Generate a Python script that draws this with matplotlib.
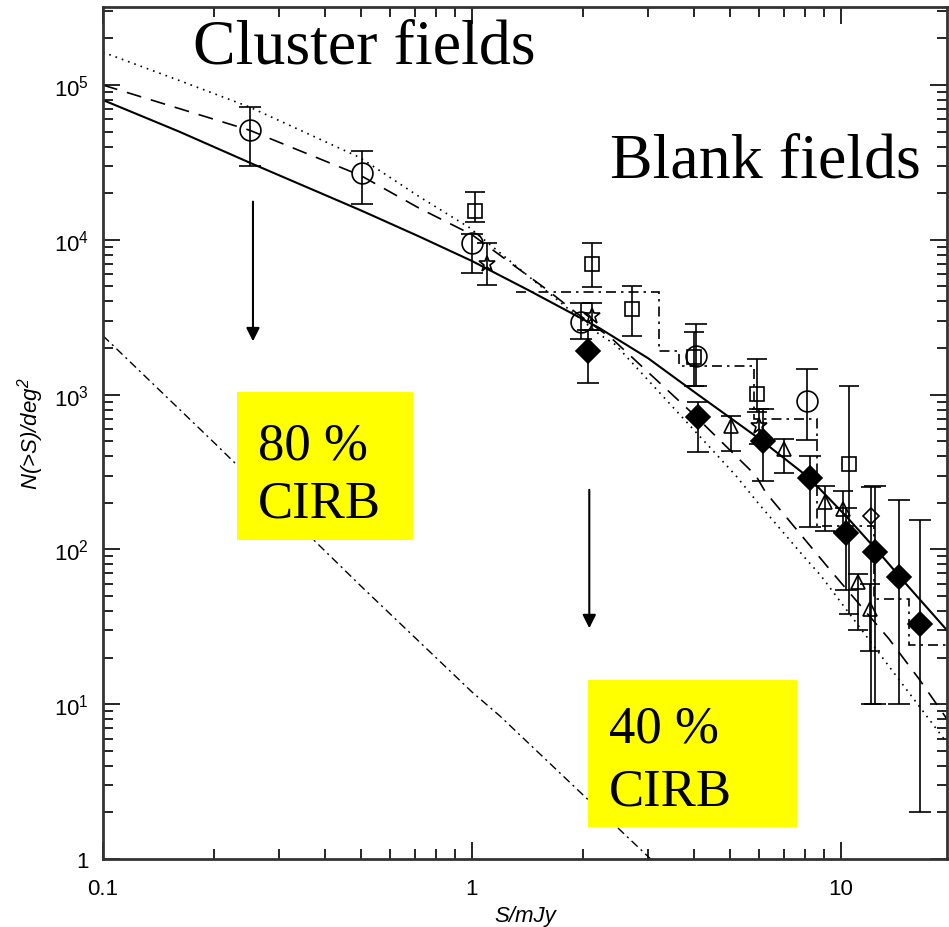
import numpy as np
import matplotlib
matplotlib.use('Agg')
import matplotlib.pyplot as plt
from matplotlib.patches import Rectangle

#---------------------- DATA
# model curves
s_solid  = [0.1, 0.161, 0.25, 0.5, 0.72, 1.0, 1.43, 2.21, 3.0, 4.05, 6.0, 8.2, 10.3, 12.7, 15.0, 19.4]
n_solid  = [8.0e4, 5.0e4, 3.15e4, 1.55e4, 1.05e4, 7.3e3, 4.7e3, 2.7e3, 1.72e3, 1.02e3, 520, 290, 165, 95, 60, 30]

s_dash   = [0.1, 0.25, 0.5, 0.72, 1.0, 1.59, 1.91, 2.4, 4.0, 5.88, 6.25, 9.47, 13.5, 16.3, 19.4]
n_dash   = [1.0e5, 5.1e4, 2.6e4, 1.6e4, 1.08e4, 4.8e3, 3.4e3, 2.29e3, 740, 300, 234, 71, 26.4, 14.5, 8.0]

s_dot    = [0.1, 0.161, 0.25, 0.496, 0.72, 0.984, 1.345, 2.21, 2.45, 5.19, 6.0, 8.03, 8.81, 14.1, 19.2]
n_dot    = [1.63e5, 1.07e5, 7.2e4, 3.41e4, 1.9e4, 1.2e4, 6.5e3, 2.46e3, 2.1e3, 300, 196, 87, 68, 15.3, 5.8]

s_cirb   = [0.1, 0.2, 0.5, 1.0, 1.19, 2.07, 3.05]
n_cirb   = [2400, 490, 58, 12, 8.4, 2.4, 1.0]

# blank-field histogram (dash-dot steps)
hist_edges = [1.32, 3.22, 3.64, 5.81, 8.6, 12.3, 15.3, 19.4]
hist_vals  = [4580, 1920, 1540, 695, 142, 48, 24]

# data points: x, y, lower, upper
circ_x  = [0.251, 0.503, 1.0, 1.98, 4.05, 8.07]
circ_y  = [5.12e4, 2.7e4, 9.6e3, 2.93e3, 1.77e3, 906]
circ_lo = [3.0e4, 1.7e4, 6.1e3, 2.3e3, 1.14e3, 511]
circ_hi = [7.2e4, 3.73e4, 1.09e4, 3.9e3, 2.86e3, 1.46e3]

sq_x  = [1.02, 2.11, 2.72, 4.0, 5.94, 10.5]
sq_y  = [1.53e4, 6.98e3, 3.57e3, 1.75e3, 1.01e3, 356]
sq_lo = [1.30e4, 4.96e3, 2.38e3, 1.14e3, 772, 38]
sq_hi = [2.04e4, 9.5e3, 5.05e3, 2.52e3, 1.70e3, 1.13e3]

star_x  = [1.10, 2.12, 6.0]
star_y  = [6.98e3, 3.24e3, 630]
star_lo = [5.1e3, 2.6e3, 480]
star_hi = [9.5e3, 3.9e3, 807]

tri_x  = [5.03, 7.0, 9.04, 10.1, 11.1, 12.0]
tri_y  = [630, 445, 201, 183, 62, 41]
tri_lo = [434, 312, 132, 130, 30, 22]
tri_hi = [731, 517, 258, 239, 69, 60]

odia_x  = [12.1]
odia_y  = [165]
odia_lo = [10]
odia_hi = [252]

fdia_x  = [2.06, 4.1, 6.15, 8.22, 10.3, 12.4, 14.4, 16.4]
fdia_y  = [1.92e3, 713, 505, 289, 128, 96, 66, 33]
fdia_lo = [1.19e3, 424, 278, 140, 55, 10, 10, 2.0]
fdia_hi = [2.6e3, 896, 807, 401, 185, 257, 209, 155]

yticks      = [1, 10, 100, 1000, 1e4, 1e5]
yticklabels = ['1', '$10^1$', '$10^2$', '$10^3$', '$10^4$', '$10^5$']
xticks      = [0.1, 1, 10]
xticklabels = ['0.1', '1', '10']

##------------------------PLOTTING
plt.rcParams['font.family'] = 'Liberation Sans'
plt.rcParams['mathtext.default'] = 'regular'

fig = plt.figure(figsize=(9.49, 9.28), dpi=100)
ax = fig.add_axes([0.1085, 0.0733, 0.8895, 0.918])

ax.plot(s_solid, n_solid, 'k-', lw=1.5)
ax.plot(s_dash, n_dash, 'k', ls=(0, (9, 6)), lw=1.2)
ax.plot(s_dot, n_dot, 'k', ls=(0, (1, 3)), lw=1.2)
ax.plot(s_cirb, n_cirb, 'k', ls=(0, (6, 3, 1.5, 3)), lw=1.0)
ax.stairs(hist_vals, hist_edges, baseline=None, color='k', ls=(0, (6, 3, 1.5, 3)), lw=1.2)

def pts(x, y, lo, hi, fmt, ms, cs, filled=False):
    x = np.array(x); y = np.array(y)
    yerr = [y - np.array(lo), np.array(hi) - y]
    ax.errorbar(x, y, yerr=yerr, fmt=fmt, ms=ms, mec='k', mfc='k' if filled else 'none',
                mew=1.2, ecolor='k', elinewidth=1.2, capsize=cs, capthick=1.2)

pts(circ_x, circ_y, circ_lo, circ_hi, 'o', 15, 8)
pts(sq_x, sq_y, sq_lo, sq_hi, 's', 10, 7)
pts(star_x, star_y, star_lo, star_hi, '*', 12, 7)
pts(tri_x, tri_y, tri_lo, tri_hi, '^', 10, 7)
pts(odia_x, odia_y, odia_lo, odia_hi, 'D', 8, 7)
pts(fdia_x, fdia_y, fdia_lo, fdia_hi, 'D', 12, 8, filled=True)

ax.set_xscale('log'); ax.set_yscale('log')
ax.set_xlim(0.1, 19.4)
ax.set_ylim(1, 3.19e5)
ax.set_xticks(xticks); ax.set_xticklabels(xticklabels)
ax.set_yticks(yticks); ax.set_yticklabels(yticklabels)
ax.tick_params(which='both', direction='in', top=True, right=True, labelsize=16, width=1.2)
ax.tick_params(which='major', length=12)
ax.tick_params(axis='y', which='major', pad=10)
ax.tick_params(axis='x', which='major', pad=14)
ax.tick_params(which='minor', length=7)
for sp in ax.spines.values():
    sp.set_linewidth(2); sp.set_color('#333333')

ax.set_xlabel('S/mJy', fontsize=16, style='italic', labelpad=4)
ax.set_ylabel('N(>S)/deg$^2$', fontsize=16, style='italic', labelpad=6)

##-----------annotations
serif = 'Liberation Serif'
ax.annotate('', xy=(0.255, 2.12e3), xytext=(0.255, 1.84e4),
            arrowprops=dict(arrowstyle='-|>', color='k', lw=1.5, mutation_scale=20))
ax.annotate('', xy=(2.08, 29.7), xytext=(2.08, 253),
            arrowprops=dict(arrowstyle='-|>', color='k', lw=1.5, mutation_scale=20))

fig.patches.append(Rectangle((0.2497, 0.417), 0.1855, 0.1595, transform=fig.transFigure,
                             facecolor='#ffff00', edgecolor='none', zorder=5))
fig.patches.append(Rectangle((0.6196, 0.1078), 0.2202, 0.1584, transform=fig.transFigure,
                             facecolor='#ffff00', edgecolor='none', zorder=5))

fig.text(0.272, (928-460)/928, '80 %', family=serif, fontsize=38, va='baseline', zorder=6)
fig.text(0.272, (928-518)/928, 'CIRB', family=serif, fontsize=38, va='baseline', zorder=6)
fig.text(0.642, (928-743)/928, '40 %', family=serif, fontsize=38, va='baseline', zorder=6)
fig.text(0.642, (928-806)/928, 'CIRB', family=serif, fontsize=38, va='baseline', zorder=6)
fig.text(193/949, (928-63)/928, 'Cluster fields', family=serif, fontsize=46, va='baseline')
fig.text(610/949, (928-178)/928, 'Blank fields', family=serif, fontsize=46, va='baseline')

plt.savefig('out.png', dpi=100)
